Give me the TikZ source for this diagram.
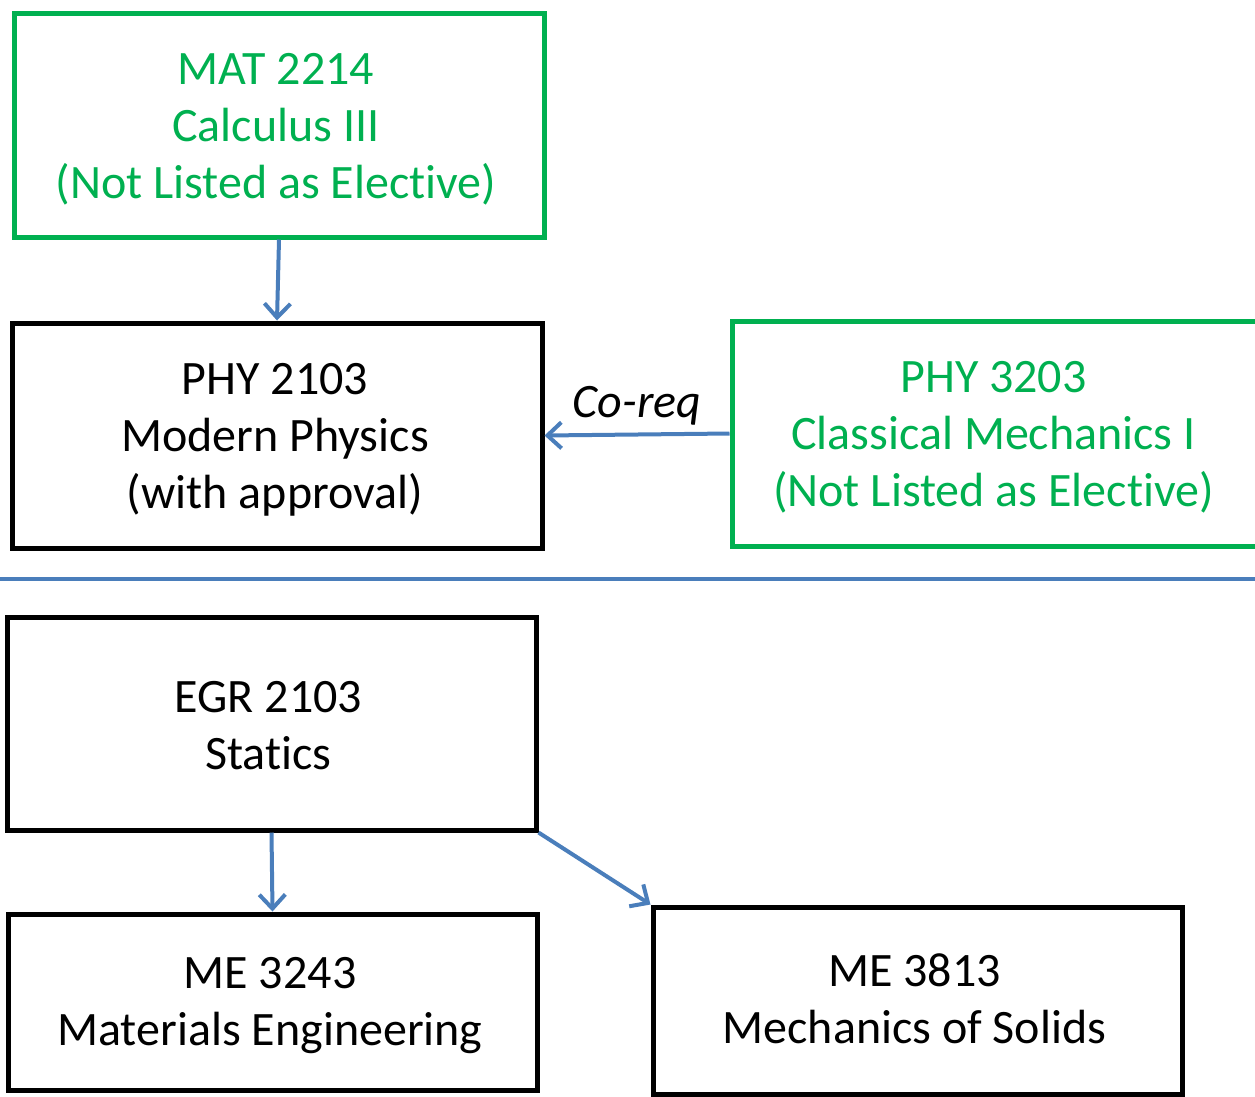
\documentclass[tikz,border=0pt]{standalone}
\usepackage{fontspec}
\setmainfont{Carlito}[Ligatures=NoCommon]
\usetikzlibrary{arrows.meta}
\definecolor{boxgreen}{HTML}{00B050}
\definecolor{linkblue}{HTML}{4A7EBB}
\begin{document}
\begin{tikzpicture}[x=1pt,y=-1pt,
  course/.style={draw, line width=5pt, inner sep=0pt},
  elective/.style={course, draw=boxgreen},
  txt/.style={inner sep=0pt, align=center, font=\fontsize{48}{57}\selectfont},
  gtxt/.style={txt, text=boxgreen},
  link/.style={draw=linkblue, line width=4pt,
    -{Straight Barb[length=14pt,width=26pt,line width=4pt]}}]
\useasboundingbox (0,0) rectangle (1255,1096);
\node[elective, minimum width=530pt, minimum height=224pt] (mat) at (279,125) {};
\node[gtxt] (matT) at ([xshift=-3pt,yshift=-4pt]mat.center)
  {MAT 2214\\Calculus III\\(Not Listed as Elective)};
\node[course, minimum width=530pt, minimum height=225pt] (phy21) at (277,435.5) {};
\node[txt] (phy21T) at ([xshift=-2pt,yshift=-4pt]phy21.center)
  {PHY 2103\\Modern Physics\\(with approval)};
\node[elective, minimum width=532pt, minimum height=225pt] (phy32) at (998,433.5) {};
\node[gtxt] (phy32T) at ([xshift=-4.5pt,yshift=-4pt]phy32.center)
  {PHY 3203\\Classical Mechanics I\\(Not Listed as Elective)};
\node[course, minimum width=529pt, minimum height=213pt] (egr) at (271.5,723.5) {};
\node[txt] (egrT) at ([xshift=-3pt,yshift=-2pt]egr.center) {EGR 2103\\Statics};
\node[course, minimum width=529pt, minimum height=176pt] (me32) at (272.5,1002) {};
\node[txt] (me32T) at ([xshift=-2.5pt,yshift=-4pt]me32.center) {ME 3243\\Materials Engineering};
\node[course, minimum width=529pt, minimum height=187pt] (me38) at (917.5,1000.5) {};
\node[txt] (me38T) at ([xshift=-3pt,yshift=2pt]me38.center) {ME 3813\\Mechanics of Solids};
\coordinate (divl) at (0,579);
\coordinate (divr) at (1255,579);
\draw[draw=linkblue, line width=3.5pt] (divl) -- (divr);
\draw[link] (mat.south) -- (phy21.north);
\draw[link] (phy32.west) -- node[above=4pt, text=black, font=\fontsize{48}{57}\selectfont\itshape] (coreq) {Co-req} (phy21.east);
\draw[link] (egr.south) -- (me32.north);
\draw[link] (egr.south east) -- (me38.north west);
\end{tikzpicture}
\end{document}
